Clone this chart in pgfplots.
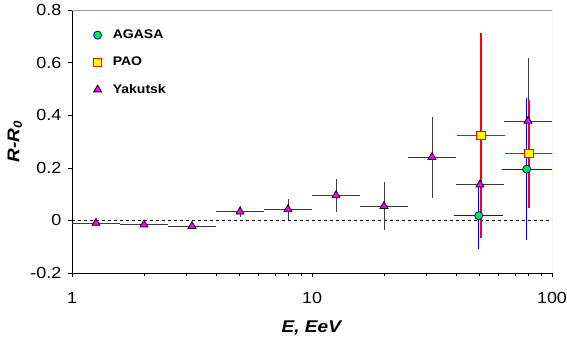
\documentclass[border=0pt]{standalone}
\usepackage{pgfplots}
\pgfplotsset{compat=1.18}
\usepackage{pgfplotstable}
\usepackage{fontspec}
\setmainfont[FakeStretch=1.12]{Liberation Sans}

\pgfplotstableread{
x y xm xp ye
1.259 -0.010 0.259 0.326 0
1.995 -0.016 0.410 0.517 0
3.162 -0.022 0.650 0.819 0
5.012 0.033 1.031 1.298 0.020
7.943 0.042 1.633 2.057 0.040
12.59 0.095 2.590 3.260 0.063
19.95 0.054 4.100 5.170 0.092
31.62 0.240 6.500 8.190 0.155
50.12 0.136 10.31 12.98 0.165
79.43 0.378 16.33 20.57 0.240
}\yakutsk

\pgfplotstableread{
x y xm xp ye
49.5 0.018 10.4 13.2 0.128
78.5 0.195 16.4 21.5 0.270
}\agasa

\pgfplotstableread{
x y xm xp ye
50.6 0.322 10.3 13.3 0.390
80.2 0.254 16.5 20.7 0.205
}\pao

\definecolor{magentaM}{RGB}{255,0,255}
\definecolor{greenM}{RGB}{0,255,0}
\definecolor{yellowM}{RGB}{255,255,0}
\definecolor{redM}{RGB}{255,0,0}
\definecolor{blueM}{RGB}{0,0,255}
\definecolor{darkM}{RGB}{60,60,60}
\definecolor{frameM}{RGB}{160,160,160}

\begin{document}
\begin{tikzpicture}
\path (-72pt,-68pt) rectangle (495pt,273pt);
\begin{axis}[
  scale only axis,
  width=480pt, height=263pt,
  xmode=log,
  xmin=1, xmax=100,
  ymin=-0.2, ymax=0.8,
  xtick={1,10,100}, xticklabels={1,10,100},
  minor xtick={},
  ytick={-0.2,0,0.2,0.4,0.6,0.8},
  yticklabels={-0.2,0,0.2,0.4,0.6,0.8},
  tick align=outside,
  tick pos=left,
  major tick length=4pt,
  tick style={black, line width=0.6pt},
  axis x line*=bottom,
  axis y line*=left,
  axis line style={black, line width=0.7pt, -},
  ticklabel style={font=\fontsize{16}{18}\selectfont, inner sep=0pt},
  xticklabel style={yshift=-15pt},
  yticklabel style={xshift=-6.5pt},
  xlabel={\textbf{\textit{E, EeV}}},
  ylabel={\textbf{\textit{R-R\textsubscript{0}}}},
  label style={font=\fontsize{17}{19}\selectfont},
  xlabel style={at={(axis description cs:0.5,-0.209)}, anchor=center},
  ylabel style={at={(axis description cs:-0.119,0.5)}, anchor=center},
  legend style={at={(axis description cs:0.038,0.94)}, anchor=north west,
    draw=none, fill=none, font=\bfseries\fontsize{12.5}{14}\selectfont,
    row sep=13pt, /tikz/every odd column/.append style={column sep=9pt}},
  legend cell align=left,
  clip=true,
]
% frame (top and right, gray)
\draw[frameM, line width=0.8pt] (rel axis cs:0,1) -- (rel axis cs:1,1) -- (rel axis cs:1,0);

% zero line
\addplot[black, line width=1.4pt, dash pattern=on 3pt off 3pt, forget plot] coordinates {(1,0) (100,0)};

% error bars
\addplot[draw=none, mark=none, forget plot,
  error bars/.cd, x dir=both, x explicit, y dir=both, y explicit,
  error mark=none,
  error bar style={draw=darkM, line width=0.9pt}]
  table[x=x, y=y, x error plus=xp, x error minus=xm, y error=ye] {\yakutsk};
\addplot[draw=none, mark=none, forget plot,
  error bars/.cd, x dir=both, x explicit, y dir=both, y explicit,
  error mark=none,
  error bar style={draw=redM, line width=1.15pt}]
  table[x=x, y=y, x error plus=xp, x error minus=xm, y error=ye] {\pao};
\addplot[draw=none, mark=none, forget plot,
  error bars/.cd, x dir=both, x explicit, y dir=both, y explicit,
  error mark=none,
  error bar style={draw=blueM, line width=1pt}]
  table[x=x, y=y, x error plus=xp, x error minus=xm, y error=ye] {\agasa};

% markers
\addplot[only marks, mark=square*, mark size=4.2pt, mark options={fill=yellowM, draw=redM, line width=1.1pt}, forget plot]
  table[x=x, y=y] {\pao};
\addplot[only marks, mark=*, mark size=4pt, mark options={fill=greenM, draw=blueM, line width=0.9pt}, forget plot]
  table[x=x, y=y] {\agasa};
\addplot[only marks, mark=triangle*, mark size=4.6pt, mark options={fill=magentaM, draw=black, line width=0.8pt}, forget plot]
  table[x=x, y=y] {\yakutsk};

\addlegendimage{only marks, mark=*, mark size=4pt, mark options={fill=greenM, draw=blueM, line width=0.9pt}}
\addlegendentry{AGASA}
\addlegendimage{only marks, mark=square*, mark size=4.2pt, mark options={fill=yellowM, draw=redM, line width=1.1pt}}
\addlegendentry{PAO}
\addlegendimage{only marks, mark=triangle*, mark size=4.6pt, mark options={fill=magentaM, draw=black, line width=0.8pt}}
\addlegendentry{Yakutsk}
\end{axis}
\end{tikzpicture}
\end{document}
